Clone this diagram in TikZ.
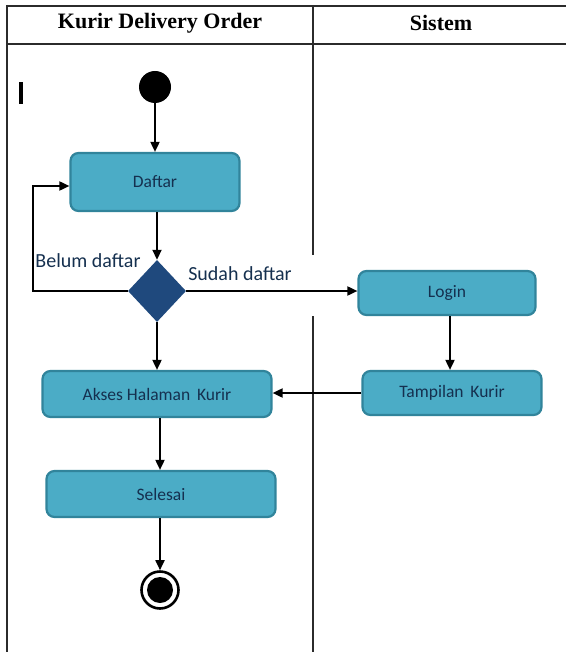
\documentclass[tikz,border=0pt]{standalone}
\usepackage{fontspec}
\setmainfont{Liberation Serif}
\newfontfamily\boxfont{Carlito}
\usetikzlibrary{arrows.meta,shapes.geometric}
\definecolor{actfill}{HTML}{4BACC6}
\definecolor{actedge}{HTML}{31849B}
\definecolor{acttext}{HTML}{15304F}
\definecolor{decfill}{HTML}{1F497D}
\definecolor{framecol}{HTML}{2B2B2B}
\tikzset{
  lane/.style={draw=framecol, line width=2pt},
  activity/.style={rectangle, rounded corners=8pt, draw=actedge, line width=2.2pt,
    fill=actfill, text=acttext, font=\boxfont\fontsize{17.5}{19}\selectfont,
    inner sep=0pt, minimum height=45pt},
  decision/.style={diamond, fill=decfill, draw=none, inner sep=0pt,
    minimum width=58pt, minimum height=62pt},
  flow/.style={draw=black, line width=1.8pt, -{Triangle[length=10pt,width=9pt]}},
  guard/.style={text=acttext, font=\boxfont\fontsize{20}{22}\selectfont, inner sep=0pt},
  lanetitle/.style={font=\bfseries\fontsize{22}{24}\selectfont, inner sep=0pt}
}
\begin{document}
\begin{tikzpicture}[x=1pt, y=-1pt]
\useasboundingbox (0,0) rectangle (566,652);

% swimlane frame
\draw[lane] (7,6) -- (566,6);
\draw[lane] (7,44) -- (566,44);
\draw[lane] (7,5) -- (7,652);
\draw[lane] (313,5) -- (313,255);
\draw[lane] (313,316) -- (313,652);
\node[lanetitle] (laneA) at (160,23) {Kurir Delivery Order};
\node[lanetitle] (laneB) at (441,23) {Sistem};

% small cursor bar
\fill[black] (18.5,82) rectangle (22.5,104);

% activities
\node[circle, fill=black, minimum size=32pt, inner sep=0pt] (start) at (155,87) {};
\node[activity, minimum width=169pt, minimum height=58pt] (daftar) at (155,182) {Daftar};
\node[decision] (dec) at (157,291) {};
\node[activity, minimum width=177pt, minimum height=44pt] (login) at (447,293) {Login};
\node[activity, minimum width=179pt, minimum height=44pt] (tampil) at (452,393) {Tampilan\ \,Kurir};
\node[activity, minimum width=229pt, minimum height=46pt] (akses) at (157,394) {Akses Halaman\ \,Kurir};
\node[activity, minimum width=229pt, minimum height=46pt] (selesai) at (161,494) {Selesai};
\node[circle, draw=black, line width=2.6pt, fill=white, minimum size=37pt, inner sep=0pt] (end) at (160,590) {};
\node[circle, fill=black, minimum size=26pt, inner sep=0pt] (endcore) at (end.center) {};

% guards
\node[guard] (belum) at (88,261) {Belum daftar};
\node[guard] (sudah) at (240,274) {Sudah daftar};

% control flow
\draw[flow] (start) -- (daftar);
\draw[flow] (daftar.south -| dec.north) -- (dec.north);
\draw[flow] (dec.west) -- ++(-95,0) |- ([yshift=-4pt]daftar.west);
\draw[flow] (dec.east) -- (dec.east -| login.west);
\draw[flow] ([xshift=3pt]login.south) -- ([xshift=3pt]login.south |- tampil.north);
\draw[flow] (tampil.west) -- (tampil.west -| akses.east);
\draw[flow] (dec.south) -- (dec.south |- akses.north);
\draw[flow] ([xshift=3pt]akses.south) -- ([xshift=3pt]akses.south |- selesai.north);
\draw[flow] (selesai.south -| end.north) -- (end.north);
\end{tikzpicture}
\end{document}
